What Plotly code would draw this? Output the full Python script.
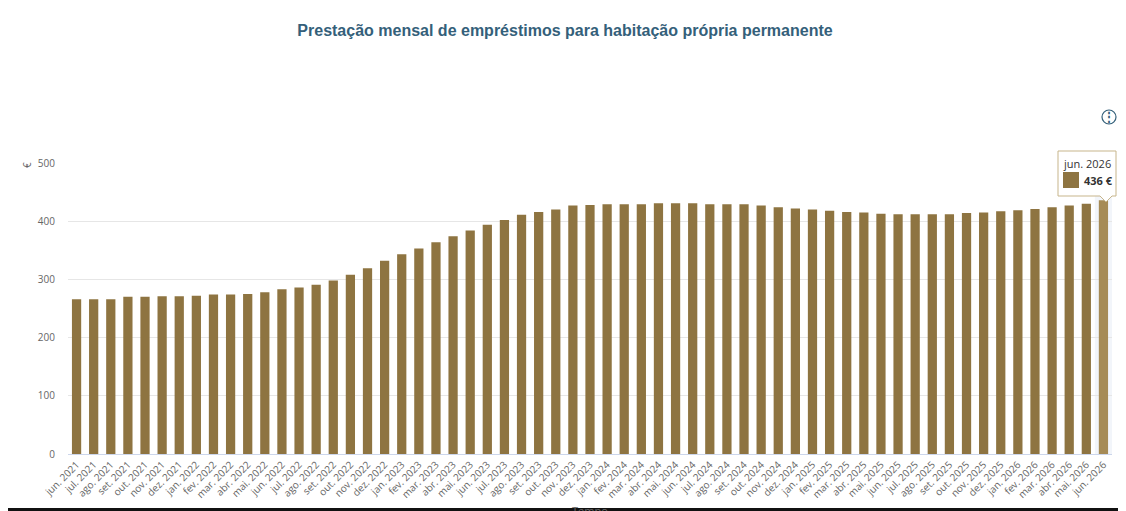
import plotly.graph_objects as go

# month labels (pt) and yearly blocks
month_abbr = ["jan.", "fev.", "mar.", "abr.", "mai.", "jun.",
              "jul.", "ago.", "set.", "out.", "nov.", "dez."]
years = [2021, 2022, 2023, 2024, 2025, 2026]

months = []
for y in years:
    for i, m in enumerate(month_abbr):
        if y == 2021 and i < 5:
            continue
        if y == 2026 and i > 5:
            continue
        months.append(f"{m} {y}")

# monthly payment (EUR)
prestacao = [266, 266, 266, 270, 270, 271, 271,
             272, 274, 274, 275, 278, 283, 286, 291, 298, 308, 319, 332,
             343, 353, 364, 374, 384, 394, 402, 411, 416, 420, 427, 428,
             429, 429, 429, 431, 431, 431, 429, 429, 429, 427, 424, 422,
             420, 418, 416, 415, 413, 412, 412, 412, 412, 414, 415, 417,
             419, 421, 424, 427, 430, 436]

y_ticks = [0, 100, 200, 300, 400, 500]

bar_col = "#8e7441"
hover_col = "#a68b56"
colors = [bar_col] * (len(months) - 1) + [hover_col]

# page body has an 8px margin, so the figure starts at (8, 8) on screen
OFF = 8
W, H = 1126 - OFF, 511 - OFF
# plot area on screen: x 68..1112, y 163..454
SX0, SX1, SY0, SY1 = 68, 1112, 163, 454
L, T = SX0 - OFF, SY0 - OFF
R = W - (SX1 - OFF)
B = H - (SY1 - OFF)
pw, ph = SX1 - SX0, SY1 - SY0


def px(x):
    return (x - SX0) / pw


def py(y):
    return (SY1 - y) / ph


fig = go.Figure()
fig.add_trace(go.Bar(x=months, y=prestacao, marker=dict(color=colors, line=dict(width=0)),
                     hoverinfo="skip"))

fig.update_layout(
    width=W, height=H,
    margin=dict(l=L, r=R, t=T, b=B),
    paper_bgcolor="white", plot_bgcolor="white",
    bargap=0.46,
    showlegend=False,
    font=dict(family="Open Sans", color="#666666"),
    title=dict(text="<b>Prestação mensal de empréstimos para habitação própria permanente</b>",
               x=px(565), xanchor="center", xref="paper",
               y=1 - (30 - OFF) / H, yanchor="middle",
               font=dict(family="Liberation Sans, Arial", size=16, color="#34607a")),
)

fig.update_xaxes(
    type="category", tickangle=-45, tickfont=dict(size=10, color="#666666"),
    showgrid=False, showline=True, linecolor="#ccd6eb", linewidth=1,
    ticks="", automargin=False,
)
fig.update_yaxes(
    range=[0, 500], tickvals=y_ticks, tickfont=dict(size=10, color="#666666"),
    showgrid=True, gridcolor="#e6e6e6", zeroline=False, ticks="",
    ticklabelstandoff=12, automargin=False,
)

# hover band behind last bar
n = len(months)
fig.add_shape(type="rect", xref="x", yref="paper", x0=n - 1.5, x1=n - 0.5, y0=0, y1=1,
              fillcolor="rgba(204,214,235,0.25)", line=dict(width=0), layer="below")

# y axis unit
fig.add_annotation(text="€", xref="paper", yref="paper", x=px(27), y=py(160),
                   textangle=-90, showarrow=False, font=dict(size=10, color="#666666"),
                   xanchor="center", yanchor="top")

# x axis title (partly cut off at bottom, as on the page)
fig.add_annotation(text="Tempo", xref="paper", yref="paper", x=px(590), y=py(501),
                   showarrow=False, font=dict(size=11, color="#666666"),
                   xanchor="center", yanchor="top")

# tooltip on last bar: box with pointer, swatch and two texts
tip_path = (f"M {px(1058)},{py(151)} L {px(1116)},{py(151)} L {px(1116)},{py(196)} "
            f"L {px(1112)},{py(196)} L {px(1106)},{py(202)} L {px(1100)},{py(196)} "
            f"L {px(1058)},{py(196)} Z")
fig.add_shape(type="path", xref="paper", yref="paper", path=tip_path,
              fillcolor="rgba(255,255,255,0.96)", line=dict(color="#c7b58b", width=1))
fig.add_shape(type="rect", xref="paper", yref="paper",
              x0=px(1063), x1=px(1079), y0=py(188), y1=py(172),
              fillcolor=bar_col, line=dict(width=0))
fig.add_annotation(text=months[-1], xref="paper", yref="paper", x=px(1087), y=py(163),
                   showarrow=False, xanchor="center", yanchor="middle",
                   font=dict(size=11, color="#333333", family="Open Sans"))
fig.add_annotation(text=f"<b>{prestacao[-1]} €</b>", xref="paper", yref="paper",
                   x=px(1082), y=py(180), showarrow=False, xanchor="left", yanchor="middle",
                   font=dict(size=11, color="#333333", family="Open Sans"))

# menu icon
fig.add_shape(type="circle", xref="paper", yref="paper",
              x0=px(1102), x1=px(1116), y0=py(124), y1=py(110),
              line=dict(color="#34607a", width=1.2))
fig.add_annotation(text="<b>⋮</b>", xref="paper", yref="paper", x=px(1109), y=py(117),
                   showarrow=False, font=dict(size=12, color="#34607a"),
                   xanchor="center", yanchor="middle")

# dark bottom border
fig.add_shape(type="line", xref="paper", yref="paper", x0=px(OFF), x1=px(1126),
              y0=py(509.5), y1=py(509.5), line=dict(color="#111111", width=3))

fig.write_html("out.html")
